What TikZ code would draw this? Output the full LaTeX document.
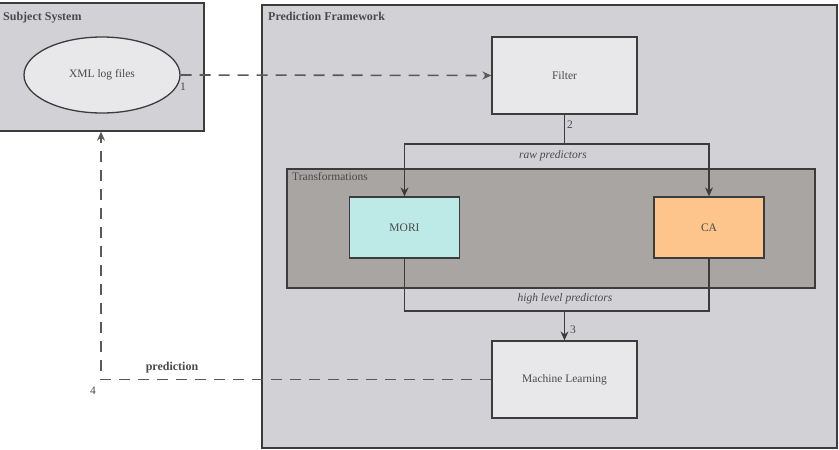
\documentclass[tikz,border=0pt]{standalone}
\usepackage{fontspec}
\setmainfont{Liberation Serif}
\usetikzlibrary{shapes.geometric,arrows.meta}
\definecolor{linegray}{HTML}{3C3C3C}
\definecolor{textgray}{HTML}{4A4A4A}
\definecolor{panelgray}{HTML}{D2D2D6}
\definecolor{boxgray}{HTML}{E8E8EA}
\definecolor{transgray}{HTML}{A9A5A3}
\definecolor{moricyan}{HTML}{BDE9E7}
\definecolor{caorange}{HTML}{FDC58C}
\tikzset{
    panel/.style={draw=linegray,line width=1.3pt,fill=panelgray,inner sep=0pt},
    stagebox/.style={draw=linegray,line width=1.3pt,fill=boxgray,text=textgray,
        font=\fontsize{11.5}{13}\selectfont,minimum width=145pt,minimum height=77pt},
    algobox/.style={stagebox,minimum width=110pt,minimum height=61pt},
    title/.style={anchor=north west,text=textgray,font=\fontsize{12}{14}\selectfont\bfseries,inner sep=0pt},
    note/.style={text=textgray,font=\fontsize{11.5}{13}\selectfont,inner sep=1pt},
    flow/.style={draw=linegray,line width=1.1pt,-{Stealth[length=9pt,width=8pt,inset=3pt]}},
    link/.style={draw=linegray,line width=1.1pt},
    flowdashed/.style={flow,line width=1.6pt,draw=linegray!85,dash pattern=on 11pt off 8pt}
}
\begin{document}
\begin{tikzpicture}[x=1pt,y=-1pt]
    \useasboundingbox (0,0) rectangle (839,450);
    % containers
    \node[panel,minimum width=206pt,minimum height=128pt] (subj) at (101,67) {};
    \node[panel,minimum width=575pt,minimum height=443pt] (frame) at (549.5,226.5) {};
    \node[panel,fill=transgray,minimum width=528pt,minimum height=119pt] (trans) at (551,228.5) {};
    \node[title] at (3,12) {Subject System};
    \node[title] at (268,12) {Prediction Framework};
    \node[title,font=\fontsize{11.5}{13}\selectfont] at (292,172) {Transformations};
    % boxes
    \node[ellipse,stagebox,minimum width=156pt,minimum height=76pt,inner sep=0pt] (xml) at (102,75) {XML log files};
    \node[stagebox] (filter) at (564.5,75.5) {Filter};
    \node[algobox,fill=moricyan] (mori) at (404.5,227.5) {MORI};
    \node[algobox,fill=caorange] (ca) at (709,227.5) {CA};
    \node[stagebox] (ml) at (564.5,379.5) {Machine Learning};
    \coordinate (split) at (564.5,144);
    \coordinate (join) at (564.5,311);
    % connectors
    \draw[flowdashed] (xml.east) -- (filter.west);
    \draw[link] (filter.south) -- (split);
    \draw[flow] (split) -| (mori.north);
    \draw[flow] (split) -| (ca.north);
    \draw[link] (mori.south) |- (join) -| (ca.south);
    \draw[flow] (join) -- (ml.north);
    \draw[flowdashed] (ml.west) -| (subj.south);
    % labels
    \node[note] at (183,87) {1};
    \node[note] at (570,125) {2};
    \node[note] at (573,330) {3};
    \node[note] at (93,391) {4};
    \node[note,font=\fontsize{11.5}{13}\selectfont\itshape] at (553,156) {raw predictors};
    \node[note,font=\fontsize{11.5}{13}\selectfont\itshape] at (565,299) {high level predictors};
    \node[note,font=\fontsize{12}{14}\selectfont\bfseries] at (172,368) {prediction};
\end{tikzpicture}
\end{document}
